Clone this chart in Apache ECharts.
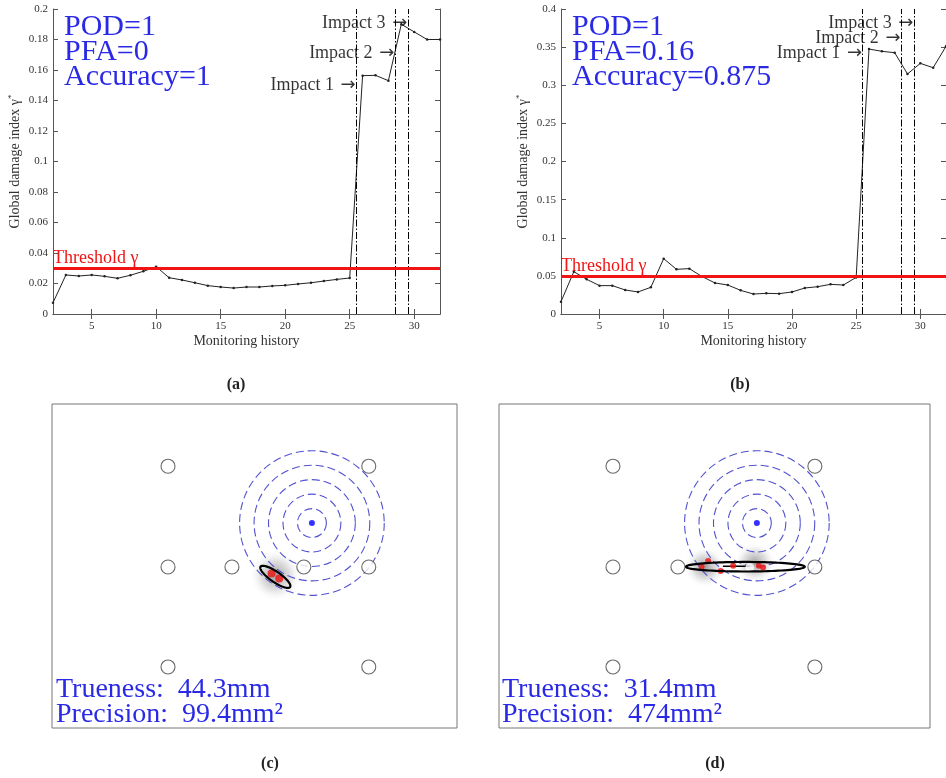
<!DOCTYPE html>
<html><head><meta charset="utf-8">
<script src="https://cdn.jsdelivr.net/npm/echarts@6/dist/echarts.min.js"></script>
<style>html,body{margin:0;padding:0;background:#fff}#chart{width:946px;height:778px}</style>
</head><body><div id="chart"></div>
<script>
// ---------- data ----------
const monitoring = [2,3,4,5,6,7,8,9,10,11,12,13,14,15,16,17,18,19,20,21,22,23,24,25,26,27,28,29,30,31,32];
const gammaA = [0.0074,0.0256,0.0249,0.0256,0.0247,0.0234,0.0254,0.0280,0.0310,0.0238,0.0223,0.0205,0.0186,0.0177,0.0170,0.0177,0.0177,0.0184,0.0188,0.0197,0.0205,0.0216,0.0227,0.0236,0.1563,0.1565,0.1530,0.1900,0.1850,0.1800,0.1800];
const gammaB = [0.0162,0.0555,0.0455,0.0372,0.0372,0.0315,0.0289,0.0350,0.0726,0.0586,0.0595,0.0490,0.0407,0.0380,0.0310,0.0262,0.0271,0.0267,0.0289,0.0341,0.0358,0.0389,0.0380,0.0480,0.3475,0.3445,0.3427,0.3148,0.3287,0.3230,0.3510];
const thresholdA = 0.032;
const thresholdB = 0.0546;
const impactTimes = [25.5, 28.5, 29.5];
const impactLabels = ['Impact 1', 'Impact 2', 'Impact 3'];
const impactLabelYA = [0.150, 0.171, 0.1905];
const impactLabelYB = [0.342, 0.3615, 0.381];
const xTickValues = [5, 10, 15, 20, 25, 30];
const yIntervalA = 0.02, yMaxA = 0.2;
const yIntervalB = 0.05, yMaxB = 0.4;
const statsA = ['POD=1', 'PFA=0', 'Accuracy=1'];
const statsB = ['POD=1', 'PFA=0.16', 'Accuracy=0.875'];
const metricsC = ['Trueness:  44.3mm', 'Precision:  99.4mm²'];
const metricsD = ['Trueness:  31.4mm', 'Precision:  474mm²'];
const panelLabels = ['(a)', '(b)', '(c)', '(d)'];
// plate maps (mm)
const plateW_C = 280, plateW_D = 298, plateH = 224;
const sensorsC = [[80.2,181],[219,181],[80.2,111.3],[124.4,111.3],[174.1,111.3],[219,111.3],[80.2,42.2],[219,42.2]];
const sensorsD = [[78.8,181],[218.4,181],[78.8,111.3],[123.7,111.3],[218.4,111.3],[78.8,42.2],[218.4,42.2]];
const targetC = [179.7, 141.7];
const targetD = [178.3, 141.7];
const contourRadii = [10, 20, 30, 40, 50];
const estimatesC = [[151.8,106.9],[157.1,103.4]];
const estimatesD = [[140.1,111.5],[144.6,115.4],[153.2,108.5],[161.9,112.2],[179.7,112.2],[182.6,110.9]];
const densityC = [[154.5,105.5]];
const densityD = [[142.3,111.3],[176.9,114.0]];
const ellipseC = [154.4, 104.5, 12.4, 3.6, -34.6];
const ellipseD = [170.3, 111.5, 41.1, 3.3, 0];
const meanD = [173.4, 110.8];
const biasD = [[154.8,111.9],[173.4,111.9]];

// ---------- styles ----------
const SERIF = '"Liberation Serif", "DejaVu Serif", serif';
const BLUE = '#2a2ae6';
const axisColor = '#555';

function timeAxes(gi) {
  const base = {
    type: 'value', gridIndex: gi, min: 2, max: 32,
    axisLine: { show: true, lineStyle: { color: axisColor, width: 1 } },
    splitLine: { show: false },
    axisTick: { show: true, inside: true, length: 5, customValues: xTickValues, lineStyle: { color: axisColor } }
  };
  return [
    Object.assign({}, base, {
      position: 'bottom',
      axisLabel: { customValues: xTickValues, fontFamily: SERIF, fontSize: 11, color: '#333', margin: 7 },
      name: 'Monitoring history', nameLocation: 'middle', nameGap: 20,
      nameTextStyle: { fontFamily: SERIF, fontSize: 14, color: '#333' }
    }),
    Object.assign({}, base, { position: 'top', axisLabel: { show: false } })
  ];
}
function gammaAxes(gi, max, interval) {
  const base = {
    type: 'value', gridIndex: gi, min: 0, max: max, interval: interval,
    axisLine: { show: true, lineStyle: { color: axisColor, width: 1 } },
    splitLine: { show: false },
    axisTick: { show: true, inside: true, length: 5, lineStyle: { color: axisColor } }
  };
  return [
    Object.assign({}, base, {
      position: 'left',
      axisLabel: { fontFamily: SERIF, fontSize: 11, color: '#333', margin: 5 },
      name: '{n|Global damage index γ}{s|*}', nameLocation: 'middle', nameGap: 30,
      nameTextStyle: { rich: {
        n: { fontFamily: SERIF, fontSize: 14, color: '#333', lineHeight: 16 },
        s: { fontFamily: SERIF, fontSize: 9, color: '#333', lineHeight: 9, verticalAlign: 'top' }
      } }
    }),
    Object.assign({}, base, { position: 'right', axisLabel: { show: false } })
  ];
}
function plateAxes(gi, w) {
  return [{ type: 'value', gridIndex: gi, min: 0, max: w, show: false },
          { type: 'value', gridIndex: gi, min: 0, max: plateH, show: false }];
}

function historySeries(ax, ay, values, threshold, labelYs) {
  return [{
    type: 'line', xAxisIndex: ax, yAxisIndex: ay,
    data: monitoring.map((m, i) => [m, values[i]]),
    symbol: 'circle', symbolSize: 2.5, showAllSymbol: true,
    lineStyle: { color: '#222', width: 1 }, itemStyle: { color: '#222' },
    z: 3,
    markLine: {
      symbol: 'none', silent: true, animation: false,
      label: { show: false },
      lineStyle: { color: '#000', width: 1, type: [7, 2, 1.5, 2] },
      data: impactTimes.map(t => ({ xAxis: t })).concat([{
        yAxis: threshold,
        lineStyle: { color: '#f01414', width: 3, type: 'solid' },
        label: { show: true, formatter: 'Threshold γ', position: 'insideStartTop', distance: [0, 1],
                 color: '#f01414', fontFamily: SERIF, fontSize: 18 }
      }])
    }
  }, {
    type: 'scatter', xAxisIndex: ax, yAxisIndex: ay,
    data: impactTimes.map((t, i) => [t, labelYs[i], impactLabels[i]]),
    symbol: 'circle', symbolSize: 1, itemStyle: { color: 'rgba(255,255,255,0)' }, silent: true, z: 5,
    label: { show: true, position: 'left', distance: 0,
             formatter: p => '{t|' + p.value[2] + '}  {a|→}',
             rich: {
               t: { fontFamily: SERIF, fontSize: 18, color: '#000' },
               a: { fontFamily: '"DejaVu Sans", sans-serif', fontSize: 18, color: '#000' }
             } }
  }];
}

function plateSeries(ai, sensors, target, estimates, density, ell, blobR, dotSize, extra) {
  const out = [];
  out.push({
    type: 'custom', xAxisIndex: ai, yAxisIndex: ai, silent: true, z: 1,
    data: density,
    renderItem: (p, api) => {
      const c = api.coord([api.value(0), api.value(1)]);
      return { type: 'circle', shape: { cx: c[0], cy: c[1], r: blobR },
        style: { fill: new echarts.graphic.RadialGradient(0.5, 0.5, 0.5, [
          { offset: 0, color: 'rgba(90,90,90,0.6)' },
          { offset: 0.55, color: 'rgba(150,150,150,0.3)' },
          { offset: 1, color: 'rgba(255,255,255,0)' }]) } };
    }
  });
  out.push({
    type: 'custom', xAxisIndex: ai, yAxisIndex: ai, silent: true, z: 2,
    data: contourRadii.map(r => [target[0], target[1], r]),
    renderItem: (p, api) => {
      const c = api.coord([api.value(0), api.value(1)]);
      const r = api.size([api.value(2), 0])[0];
      return { type: 'circle', shape: { cx: c[0], cy: c[1], r: r },
        style: { fill: 'none', stroke: '#5252cf', lineWidth: 1.1, lineDash: [8, 4] } };
    }
  });
  if (extra) extra.forEach(s => out.push(s));
  out.push({
    type: 'scatter', xAxisIndex: ai, yAxisIndex: ai, silent: true, z: 4,
    data: estimates, symbolSize: dotSize, itemStyle: { color: '#ee1010' }
  });
  out.push({
    type: 'custom', xAxisIndex: ai, yAxisIndex: ai, silent: true, z: 5,
    data: [ell],
    renderItem: (p, api) => {
      const cx = api.value(0), cy = api.value(1), a = api.value(2), b = api.value(3);
      const th = api.value(4) * Math.PI / 180;
      const pts = [];
      for (let k = 0; k < 96; k++) {
        const t = k / 96 * 2 * Math.PI;
        const ex = a * Math.cos(t), ey = b * Math.sin(t);
        pts.push(api.coord([cx + ex * Math.cos(th) - ey * Math.sin(th),
                            cy + ex * Math.sin(th) + ey * Math.cos(th)]));
      }
      return { type: 'polygon', shape: { points: pts },
        style: { fill: 'none', stroke: '#000', lineWidth: 2.2 } };
    }
  });
  out.push({
    type: 'scatter', xAxisIndex: ai, yAxisIndex: ai, silent: true, z: 6,
    data: sensors, symbol: 'circle', symbolSize: 14,
    itemStyle: { color: '#fff', borderColor: '#444', borderWidth: 1.1 }
  });
  out.push({
    type: 'scatter', xAxisIndex: ai, yAxisIndex: ai, silent: true, z: 7,
    data: [target], symbolSize: 6, itemStyle: { color: '#0000ff' }
  });
  return out;
}

const extraD = [{
  type: 'line', xAxisIndex: 5, yAxisIndex: 5, silent: true, z: 4,
  data: biasD, symbol: 'none', lineStyle: { color: '#000', width: 1.5 }
}, {
  type: 'scatter', xAxisIndex: 5, yAxisIndex: 5, silent: true, z: 4.5,
  data: [meanD], symbolSize: 9, itemStyle: { color: '#fff' }
}];

function textLines(lines, x, y0, step, font, color) {
  return lines.map((t, i) => ({
    type: 'text', x: x, y: y0 + i * step, silent: true,
    style: { text: t, font: font, fill: color, align: 'left', verticalAlign: 'middle' }
  }));
}

const statFont = '30px ' + SERIF;
const metricFont = '28px ' + SERIF;
const labelFont = 'bold 16px ' + SERIF;
const labelPos = [[236, 385], [740, 385], [270, 764], [715, 764]];

const option = {
  animation: false,
  backgroundColor: '#fff',
  grid: [
    { left: 53, top: 9, width: 387, height: 305 },
    { left: 561, top: 9, width: 386, height: 305 },
    { left: 52, top: 404, width: 405, height: 324, show: true, borderColor: '#777', borderWidth: 1, backgroundColor: 'rgba(0,0,0,0)' },
    { left: 499, top: 404, width: 431, height: 324, show: true, borderColor: '#777', borderWidth: 1, backgroundColor: 'rgba(0,0,0,0)' }
  ],
  xAxis: [].concat(timeAxes(0), timeAxes(1), [plateAxes(2, plateW_C)[0], plateAxes(3, plateW_D)[0]]),
  yAxis: [].concat(gammaAxes(0, yMaxA, yIntervalA), gammaAxes(1, yMaxB, yIntervalB), [plateAxes(2, plateW_C)[1], plateAxes(3, plateW_D)[1]]),
  series: [].concat(
    historySeries(0, 0, gammaA, thresholdA, impactLabelYA),
    historySeries(2, 2, gammaB, thresholdB, impactLabelYB),
    plateSeries(4, sensorsC, targetC, estimatesC, densityC, ellipseC, 26, 8, null),
    plateSeries(5, sensorsD, targetD, estimatesD, densityD, ellipseD, 21, 6, extraD)
  ),
  graphic: [].concat(
    textLines(statsA, 64, 27, 25, statFont, BLUE),
    textLines(statsB, 572, 27, 25, statFont, BLUE),
    textLines(metricsC, 56, 690, 25, metricFont, BLUE),
    textLines(metricsD, 502, 690, 25, metricFont, BLUE),
    panelLabels.map((t, i) => ({ type: 'text', x: labelPos[i][0], y: labelPos[i][1], silent: true,
      style: { text: t, font: labelFont, fill: '#222', align: 'center', verticalAlign: 'middle' } }))
  )
};

const chart = echarts.init(document.getElementById('chart'), null, { renderer: 'canvas' });
chart.setOption(option);
</script>
</body></html>
